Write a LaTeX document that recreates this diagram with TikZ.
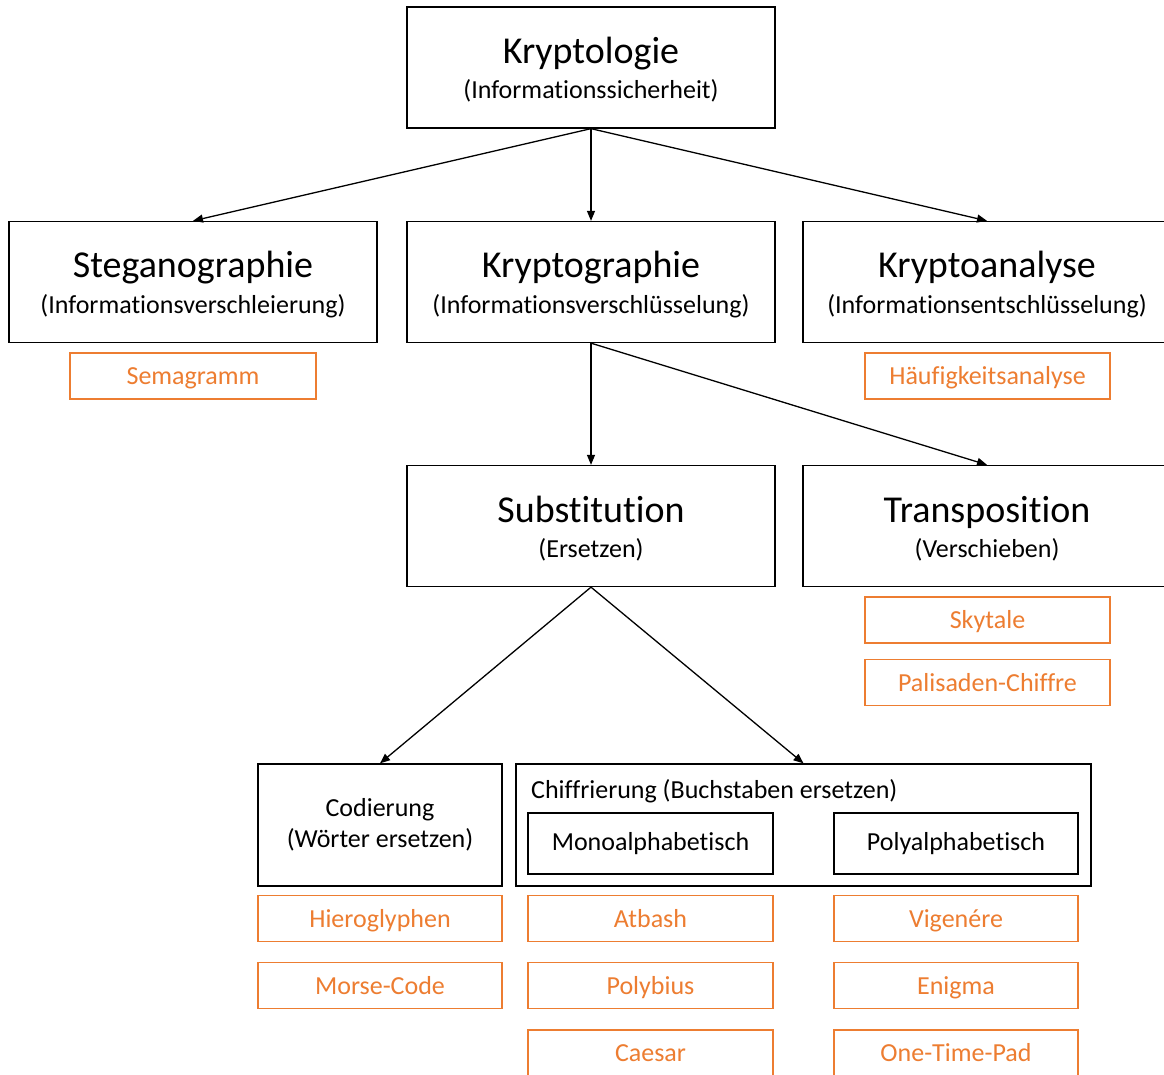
\documentclass[tikz,border=0pt]{standalone}
\usepackage{fontspec}
\setmainfont{Carlito}[Ligatures={NoCommon}]
\usetikzlibrary{arrows.meta}
\definecolor{orng}{HTML}{ED7D31}
\begin{document}
\begin{tikzpicture}[x=1pt,y=-1pt,
  bigbox/.style={draw=black, line width=1.3pt, minimum width=368pt, minimum height=121pt, inner sep=0pt},
  obox/.style={draw=orng, line width=1.3pt, text=orng, minimum width=245pt, minimum height=46pt, inner sep=0pt, text height=21pt, text depth=4pt, font=\fontsize{26}{30}\selectfont},
  otxt/.style={text=orng, anchor=base, inner sep=0pt, font=\fontsize{26}{30}\selectfont},
  ibox/.style={draw=black, line width=1.3pt, inner sep=0pt, font=\fontsize{26}{31}\selectfont},
  ttl/.style={anchor=base, inner sep=0pt, font=\fontsize{38}{44}\selectfont},
  sub/.style={anchor=base, inner sep=0pt, font=\fontsize{26}{30}\selectfont},
  arr/.style={line width=1.3pt, -{Triangle[length=10pt,width=8pt]}}
]
\useasboundingbox (0,0) rectangle (1164,1075);
\clip (0,0) rectangle (1164,1075);
\fill[white] (0,0) rectangle (1164,1075);

% big boxes
\node[bigbox] (kl) at (591,67.5) {};
\node[ttl] at (591,64) {Kryptologie};
\node[sub] at (591,99) {(Informationssicherheit)};

\node[bigbox] (st) at (193,282) {};
\node[ttl] at (193,278) {Steganographie};
\node[sub] at (193,313) {(Informationsverschleierung)};

\node[bigbox] (kg) at (591,282) {};
\node[ttl] at (591,278) {Kryptographie};
\node[sub] at (591,313) {(Informationsverschlüsselung)};

\node[bigbox] (ka) at (987,282) {};
\node[ttl] at (987,278) {Kryptoanalyse};
\node[sub] at (987,313) {(Informationsentschlüsselung)};

\node[bigbox] (sb) at (591,526) {};
\node[ttl] at (591,522) {Substitution};
\node[sub] at (591,557) {(Ersetzen)};

\node[bigbox] (tr) at (987,526) {};
\node[ttl] at (987,522) {Transposition};
\node[sub] at (987,557) {(Verschieben)};

% orange boxes
\node[obox, minimum width=246pt] (sem) at (193,376) {Semagramm};
\node[obox] (hae) at (987.5,376) {Häufigkeitsanalyse};
\node[obox] (sky) at (987.5,620) {Skytale};
\node[obox] (pal) at (987.5,682.5) {Palisaden-Chiffre};

% codierung / chiffrierung
\node[ibox, minimum width=244pt, minimum height=122pt, align=center] (cod) at (380,825) {Codierung\\(Wörter ersetzen)};
\node[ibox, minimum width=575pt, minimum height=122pt] (chi) at (803.5,825) {};
\node[sub, anchor=base west] (chil) at (531,798) {Chiffrierung (Buchstaben ersetzen)};
\node[ibox, minimum width=245pt, minimum height=61pt, text height=19pt, text depth=5pt] (mono) at (650.5,843.5) {Monoalphabetisch};
\node[ibox, minimum width=244pt, minimum height=61pt, text height=19pt, text depth=5pt] (poly) at (956,843.5) {Polyalphabetisch};

\node[obox, minimum width=244pt] (hie) at (380,918.5) {Hieroglyphen};
\node[obox, minimum width=244pt] (mor) at (380,985.5) {Morse-Code};
\node[obox] (atb) at (650.5,918.5) {Atbash};
\node[obox] (plb) at (650.5,985.5) {Polybius};
\node[obox, minimum height=56pt] (cae) at (650.5,1058) {};
\node[otxt] at (650.5,1061.5) {Caesar};
\node[obox, minimum width=244pt] (vig) at (956,918.5) {Vigenére};
\node[obox, minimum width=244pt] (eni) at (956,985.5) {Enigma};
\node[obox, minimum width=244pt, minimum height=56pt] (otp) at (956,1058) {};
\node[otxt] at (956,1061.5) {One-Time-Pad};

% arrows
\draw[arr] (kl.south) -- (st.north);
\draw[arr] (kl.south) -- (kg.north);
\draw[arr] (kl.south) -- (ka.north);
\draw[arr] (kg.south) -- (sb.north);
\draw[arr] (kg.south) -- (tr.north);
\draw[arr] (sb.south) -- (cod.north);
\draw[arr] (sb.south) -- (chi.north);
\end{tikzpicture}
\end{document}
